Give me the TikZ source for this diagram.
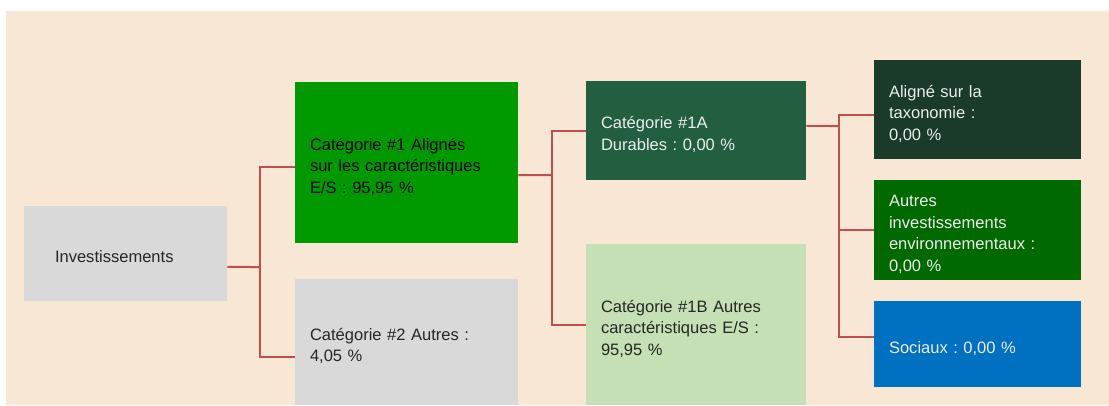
\documentclass[tikz,border=0pt]{standalone}
\usepackage{fontspec}
\setmainfont{Liberation Sans}
\usepackage{xcolor}
\usetikzlibrary{shapes,positioning}
\frenchspacing

\definecolor{fond}{HTML}{F8E7D4}
\definecolor{gris}{HTML}{D9D9D9}
\definecolor{vertvif}{HTML}{009900}
\definecolor{vertfonce}{HTML}{225E40}
\definecolor{vertpale}{HTML}{C5E0B4}
\definecolor{vertnuit}{HTML}{1A3B2A}
\definecolor{vertmoyen}{HTML}{006A00}
\definecolor{bleu}{HTML}{0070C0}
\definecolor{lien}{HTML}{C0504D}
\definecolor{clair}{HTML}{EDEDED}

\tikzset{
  box/.style={rectangle, inner xsep=11.25pt, inner ysep=0pt, align=left,
    font=\fontsize{12.4pt}{16.1pt}\selectfont,
    % fixed struts so every text block sits at the same height
    execute at begin node={\noindent\rule{0pt}{16.6pt}},
    execute at end node={\rule[-3pt]{0pt}{0pt}}},
  link/.style={line width=1.5pt, draw=lien}
}

\begin{document}
\begin{tikzpicture}[x=0.75pt,y=-0.75pt]
	% Page and background band
	\useasboundingbox (0,0) rectangle (1109,405);
	\fill[fond] (6,11) rectangle (1109,405);

	% First column
	\node[box, fill=gris, text=black!85, inner xsep=23.25pt, text width=105.75pt,
	      minimum width=152.25pt, minimum height=71.25pt] (inv) at (125.5,253.5) {Investissements};

	% Second column
	\node[box, fill=vertvif, text=black, text width=144.75pt,
	      minimum width=167.25pt, minimum height=120.75pt] (cat1) at (406.5,162.5)
	      {Catégorie \#1 Alignés\\sur les caractéristiques\\E/S : 95,95 \%};
	\node[box, fill=gris, text=black!85, text width=144.75pt,
	      minimum width=167.25pt, minimum height=94.5pt] (cat2) at (406.5,342)
	      {Catégorie \#2 Autres :\\4,05 \%};

	% Third column
	\node[box, fill=vertfonce, text=clair, text width=142.5pt,
	      minimum width=165pt, minimum height=74.25pt] (cat1a) at (696,130.5)
	      {Catégorie \#1A\\Durables : 0,00 \%};
	\node[box, fill=vertpale, text=black!85, text width=142.5pt,
	      minimum width=165pt, minimum height=120.75pt] (cat1b) at (696,324.5)
	      {Catégorie \#1B Autres\\caractéristiques E/S :\\95,95 \%};

	% Fourth column
	\node[box, fill=vertnuit, text=clair, text width=132.75pt,
	      minimum width=155.25pt, minimum height=74.25pt] (tax) at (977.5,109.5)
	      {Aligné sur la\\taxonomie :\\0,00 \%};
	\node[box, fill=vertmoyen, text=clair, text width=132.75pt,
	      minimum width=155.25pt, minimum height=75pt] (env) at (977.5,230)
	      {Autres\\investissements\\environnementaux :\\0,00 \%};
	\node[box, fill=bleu, text=clair, text width=132.75pt,
	      minimum width=155.25pt, minimum height=64.5pt] (soc) at (977.5,344)
	      {Sociaux : 0,00 \%};

	% Junctions of the tree
	\coordinate (fork1) at (260,267);
	\coordinate (fork2) at (552,175);
	\coordinate (fork3) at (839,126);

	% Connectors
	\draw[link] ([yshift=-10.1pt]inv.east) -- (fork1);
	\draw[link] ([yshift=-3.4pt]cat1.west) -| (fork1) |- ([yshift=-11.25pt]cat2.west);

	\draw[link] ([yshift=-9.4pt]cat1.east) -- (fork2);
	\draw[link] (cat1a.west) -| (fork2) |- (cat1b.west);

	\draw[link] ([yshift=3.4pt]cat1a.east) -- (fork3);
	\draw[link] ([yshift=-4.1pt]tax.west) -| (fork3) |- ([yshift=5.25pt]soc.west);
	\draw[link] (fork3 |- env.west) -- (env.west);
\end{tikzpicture}
\end{document}
